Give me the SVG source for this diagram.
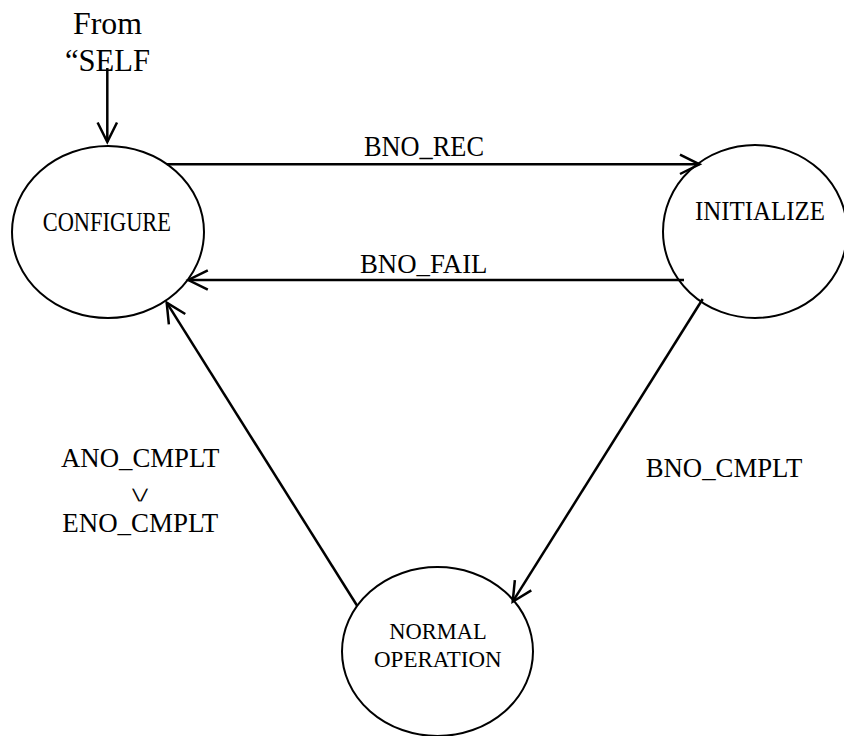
<svg xmlns="http://www.w3.org/2000/svg" width="844" height="736" viewBox="0 0 844 736">
<style>
.node{fill:#fff;stroke:#000;stroke-width:2}
.edge{fill:none;stroke:#000;stroke-width:2.5}
.t{font-family:"Liberation Serif","Times New Roman",serif;fill:#000}
.sym{font-family:"DejaVu Sans","Liberation Serif",sans-serif;fill:#000;stroke:#fff;stroke-width:1.3}
</style>
<defs>
<marker id="arr" markerUnits="userSpaceOnUse" markerWidth="40" markerHeight="40" viewBox="-30 -20 40 40" refX="0" refY="0" orient="auto" overflow="visible">
<path d="M-19.5,-9.7 L0,0 L-19.5,9.7" fill="none" stroke="#000" stroke-width="2.5" stroke-linejoin="miter"/>
</marker>
</defs>
<rect width="844" height="736" fill="#fff"/>
<g id="node-configure">
<ellipse class="node" cx="108" cy="232" rx="96" ry="86"/>
<text class="t" x="42.7" y="231" font-size="27" textLength="128.3" lengthAdjust="spacingAndGlyphs">CONFIGURE</text>
</g>
<g id="node-initialize">
<ellipse class="node" cx="755" cy="231.5" rx="92" ry="86.5"/>
<text class="t" x="695" y="220" font-size="26.4" textLength="130" lengthAdjust="spacingAndGlyphs">INITIALIZE</text>
</g>
<g id="node-normal">
<ellipse class="node" cx="437.5" cy="651.5" rx="95.5" ry="84.5"/>
<text class="t" x="389.3" y="639.3" font-size="23.4" textLength="97.4" lengthAdjust="spacingAndGlyphs">NORMAL</text>
<text class="t" x="374" y="666.7" font-size="23" textLength="127.7" lengthAdjust="spacingAndGlyphs">OPERATION</text>
</g>
<g id="start-label">
<text class="t" x="73" y="34.3" font-size="32" textLength="69" lengthAdjust="spacingAndGlyphs">From</text>
<text class="t" x="65" y="71" font-size="32" textLength="85" lengthAdjust="spacingAndGlyphs">“SELF</text>
</g>
<g id="connectors">
<line class="edge" x1="107.3" y1="68" x2="107.3" y2="142" marker-end="url(#arr)"/>
<line class="edge" x1="166.8" y1="164.3" x2="699.5" y2="164.3" marker-end="url(#arr)"/>
<line class="edge" x1="684" y1="280" x2="188.3" y2="280" marker-end="url(#arr)"/>
<line class="edge" x1="702.7" y1="299" x2="512.7" y2="601.7" marker-end="url(#arr)"/>
<line class="edge" x1="357.3" y1="606" x2="166.7" y2="302.7" marker-end="url(#arr)"/>
<text class="t" x="364" y="155.5" font-size="28.5" textLength="120" lengthAdjust="spacingAndGlyphs">BNO_REC</text>
<text class="t" x="360" y="272.7" font-size="27" textLength="127.5" lengthAdjust="spacingAndGlyphs">BNO_FAIL</text>
<text class="t" x="645.7" y="477.3" font-size="26.4" textLength="156.6" lengthAdjust="spacingAndGlyphs">BNO_CMPLT</text>
<text class="t" x="61" y="467.3" font-size="27.5" textLength="158.3" lengthAdjust="spacingAndGlyphs">ANO_CMPLT</text>
<text class="sym" transform="translate(140,501.5) scale(1.3,0.8)" x="0" y="0" font-size="30" text-anchor="middle">∨</text>
<text class="t" x="62.3" y="532.3" font-size="26.4" textLength="156" lengthAdjust="spacingAndGlyphs">ENO_CMPLT</text>
</g>
</svg>
